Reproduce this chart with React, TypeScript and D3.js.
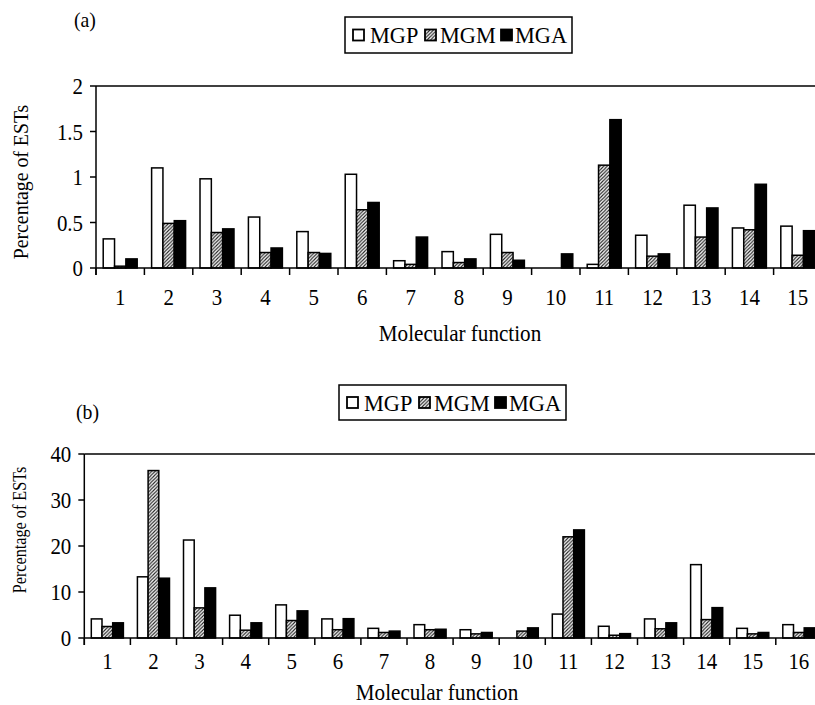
import React from 'react';
import * as d3 from 'd3';

const SERIES = ['MGP', 'MGM', 'MGA'];

const CAT_A = ['1','2','3','4','5','6','7','8','9','10','11','12','13','14','15'];
const A_MGP = [0.32, 1.10, 0.98, 0.56, 0.40, 1.03, 0.08, 0.18, 0.37, 0, 0.04, 0.36, 0.69, 0.44, 0.46];
const A_MGM = [0.02, 0.49, 0.39, 0.17, 0.17, 0.64, 0.04, 0.06, 0.17, 0, 1.13, 0.13, 0.34, 0.42, 0.14];
const A_MGA = [0.10, 0.52, 0.43, 0.22, 0.16, 0.72, 0.34, 0.10, 0.085, 0.155, 1.63, 0.155, 0.66, 0.92, 0.41];
const A_TICKS = [0, 0.5, 1, 1.5, 2];
const A_TICK_LABELS = ['0', '0.5', '1', '1.5', '2'];

const CAT_B = ['1','2','3','4','5','6','7','8','9','10','11','12','13','14','15','16'];
const B_MGP = [4.15, 13.3, 21.3, 4.95, 7.2, 4.15, 2.1, 2.9, 1.8, 0, 5.2, 2.55, 4.15, 15.95, 2.1, 2.9];
const B_MGM = [2.5, 36.4, 6.55, 1.7, 3.8, 1.8, 1.2, 1.8, 0.9, 1.5, 22.0, 0.6, 2.0, 4.0, 0.9, 1.2];
const B_MGA = [3.3, 13.0, 10.9, 3.3, 5.9, 4.2, 1.5, 1.9, 1.2, 2.2, 23.5, 0.95, 3.3, 6.6, 1.2, 2.2];
const B_TICKS = [0, 10, 20, 30, 40];
const B_TICK_LABELS = ['0', '10', '20', '30', '40'];

const FONT = '"Liberation Serif", "Times New Roman", serif';

function fillFor(s: string) {
  if (s === 'MGP') return '#fff';
  if (s === 'MGM') return 'url(#hatch)';
  return '#000';
}

type TProps = {
  x: number; y: number; size: number; sx?: number; rot?: number;
  anchor?: 'start' | 'middle' | 'end'; children: React.ReactNode;
};
function T({ x, y, size, sx = 0.87, rot = 0, anchor = 'start', children }: TProps) {
  return (
    <text
      transform={`translate(${x},${y}) rotate(${rot}) scale(${sx},1)`}
      textAnchor={anchor}
      dominantBaseline="central"
      fontSize={size}
      fontFamily={FONT}
      fill="#000"
    >
      {children}
    </text>
  );
}

type PanelProps = {
  cats: string[];
  series: number[][];
  ticks: number[];
  tickLabels: string[];
  x0: number; x1: number;
  yTop: number; yZero: number;
  ymax: number;
  barFrac: number;
  tickLabelY: number;
  titleY: number;
  titleX: number;
  yTitleX: number;
  yTitleY: number;
  yTitleSize: number;
  letter: string; letterX: number; letterY: number;
  legendX: number; legendY: number; legendW: number; legendH: number;
};

function Panel(p: PanelProps) {
  const x = d3.scaleBand<string>().domain(p.cats).range([p.x0, p.x1]).padding(0);
  const y = d3.scaleLinear().domain([0, p.ymax]).range([p.yZero, p.yTop]);
  const bw = x.bandwidth() * p.barFrac;
  const sub = d3.scaleBand<string>().domain(SERIES).range([0, bw * 3]).padding(0);
  const off = (x.bandwidth() - bw * 3) / 2;
  const boundaries = p.cats.map((c) => x(c) as number).concat([p.x1]);
  const legendItems = [
    { s: 'MGP', mx: 8, tx: 25 },
    { s: 'MGM', mx: 80, tx: 95 },
    { s: 'MGA', mx: 156, tx: 170 },
  ];
  return (
    <g>
      {p.series.map((vals, si) =>
        vals.map((v, i) =>
          v > 0 ? (
            <rect
              key={`${si}-${i}`}
              x={(x(p.cats[i]) as number) + off + (sub(SERIES[si]) as number)}
              y={y(v)}
              width={sub.bandwidth()}
              height={p.yZero - y(v)}
              fill={fillFor(SERIES[si])}
              stroke="#000"
              strokeWidth={1.5}
            />
          ) : null
        )
      )}
      <line x1={p.x0} x2={p.x1} y1={p.yZero} y2={p.yZero} stroke="#000" strokeWidth={1.5} />
      <line x1={p.x0} x2={p.x1} y1={y(p.ymax)} y2={y(p.ymax)} stroke="#000" strokeWidth={1.5} />
      <line x1={p.x0} x2={p.x0} y1={p.yZero + 7} y2={y(p.ymax)} stroke="#000" strokeWidth={1.5} />
      {boundaries.map((bx, i) => (
        <line key={'xt' + i} x1={bx} x2={bx} y1={p.yZero} y2={p.yZero + 7} stroke="#000" strokeWidth={1.5} />
      ))}
      {p.ticks.map((t, i) => (
        <g key={'yt' + i}>
          <line x1={p.x0 - 6} x2={p.x0} y1={y(t)} y2={y(t)} stroke="#000" strokeWidth={1.5} />
          <T x={p.x0 - 13} y={y(t)} size={24} anchor="end">{p.tickLabels[i]}</T>
        </g>
      ))}
      {p.cats.map((c) => (
        <T key={'xl' + c} x={(x(c) as number) + x.bandwidth() / 2} y={p.tickLabelY} size={24} anchor="middle">
          {c}
        </T>
      ))}
      <T x={p.titleX} y={p.titleY} size={24} sx={0.88} anchor="middle">Molecular function</T>
      <T x={p.yTitleX} y={p.yTitleY} size={p.yTitleSize} sx={0.9} rot={-90} anchor="middle">
        Percentage of ESTs
      </T>
      <T x={p.letterX} y={p.letterY} size={22} sx={0.9}>{p.letter}</T>
      <g transform={`translate(${p.legendX},${p.legendY})`}>
        <rect x={0} y={0} width={p.legendW} height={p.legendH} fill="#fff" stroke="#000" strokeWidth={1.5} />
        {legendItems.map((it) => (
          <g key={it.s}>
            <rect x={it.mx} y={p.legendH / 2 - 5.5} width={11} height={11} fill={fillFor(it.s)} stroke="#000" strokeWidth={1.8} />
            <T x={it.tx} y={p.legendH / 2} size={24} sx={0.93}>{it.s}</T>
          </g>
        ))}
      </g>
    </g>
  );
}

export default function App() {
  return (
    <svg
      width={815}
      height={705}
      style={{ position: 'absolute', left: 0, top: 0, background: '#fff', overflow: 'hidden' }}
    >
      <defs>
        <pattern id="hatch" patternUnits="userSpaceOnUse" width={3.5} height={3.5}>
          <rect width={3.5} height={3.5} fill="#fff" />
          <path d="M-1,1 L1,-1 M0,3.5 L3.5,0 M2.5,4.5 L4.5,2.5" stroke="#222" strokeWidth={1.1} />
        </pattern>
      </defs>
      <Panel
        cats={CAT_A}
        series={[A_MGP, A_MGM, A_MGA]}
        ticks={A_TICKS}
        tickLabels={A_TICK_LABELS}
        x0={96} x1={96 + 15 * 48.4}
        yTop={86} yZero={268} ymax={2}
        barFrac={0.234}
        tickLabelY={297}
        titleY={333}
        titleX={460}
        yTitleX={21} yTitleY={182} yTitleSize={22}
        letter="(a)" letterX={74} letterY={20}
        legendX={345} legendY={17} legendW={227} legendH={36}
      />
      <Panel
        cats={CAT_B}
        series={[B_MGP, B_MGM, B_MGA]}
        ticks={B_TICKS}
        tickLabels={B_TICK_LABELS}
        x0={84.3} x1={84.3 + 16 * 46.1}
        yTop={454} yZero={638} ymax={40}
        barFrac={0.232}
        tickLabelY={661}
        titleY={692}
        titleX={437}
        yTitleX={20} yTitleY={530} yTitleSize={18}
        letter="(b)" letterX={76} letterY={412}
        legendX={339} legendY={385} legendW={227} legendH={35}
      />
    </svg>
  );
}
